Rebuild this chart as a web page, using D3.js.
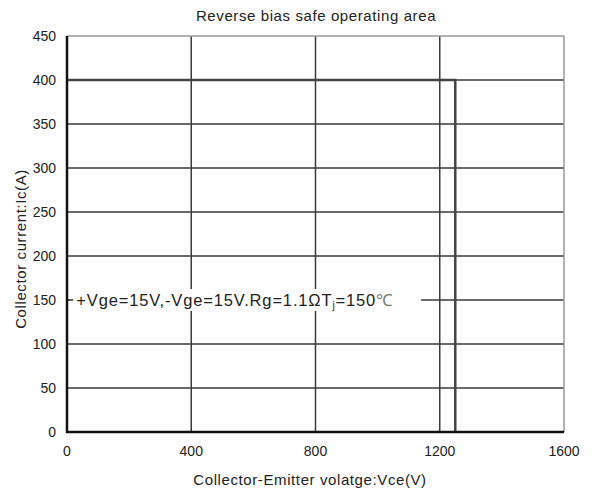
<!DOCTYPE html>
<html>
<head>
<meta charset="utf-8">
<title>RBSOA</title>
<script src="https://cdn.jsdelivr.net/npm/d3@7"></script>
<style>
  body { margin: 0; background: #fff; }
  text { font-family: "Liberation Sans", Arial, sans-serif; fill: #222; }
</style>
</head>
<body>
<div id="root"></div>
<script>
// chart values
const xTicks = [0, 400, 800, 1200, 1600];
const yTicks = [0, 50, 100, 150, 200, 250, 300, 350, 400, 450];
const soaVce = [0, 1250, 1250];
const soaIc = [400, 400, 0];

const width = 592, height = 494;
const margin = {left: 67, right: 28, top: 36, bottom: 62};

const x = d3.scaleLinear().domain([0, 1600]).range([margin.left, width - margin.right]);
const y = d3.scaleLinear().domain([0, 450]).range([height - margin.bottom, margin.top]);

const svg = d3.select("#root").append("svg")
  .attr("width", width).attr("height", height);

// gridlines
svg.append("g").selectAll("line").data(yTicks.slice(1, -1)).join("line")
  .attr("x1", x(0)).attr("x2", x(1600))
  .attr("y1", d => y(d)).attr("y2", d => y(d))
  .attr("stroke", "#3a3a3a").attr("stroke-width", 1.5);
svg.append("g").selectAll("line").data(xTicks.slice(1, -1)).join("line")
  .attr("x1", d => x(d)).attr("x2", d => x(d))
  .attr("y1", y(0)).attr("y2", y(450))
  .attr("stroke", "#3a3a3a").attr("stroke-width", 1.5);

// frame: top and right grey, left and bottom black
svg.append("line").attr("x1", x(0)).attr("x2", x(1600)).attr("y1", y(450)).attr("y2", y(450))
  .attr("stroke", "#999").attr("stroke-width", 1.5);
svg.append("line").attr("x1", x(1600)).attr("x2", x(1600)).attr("y1", y(0)).attr("y2", y(450))
  .attr("stroke", "#999").attr("stroke-width", 1.5);

// SOA boundary
const line = d3.line().x((d, i) => x(soaVce[i])).y(d => y(d));
svg.append("path").datum(soaIc).attr("d", line)
  .attr("fill", "none").attr("stroke", "#444").attr("stroke-width", 2.5);

// annotation box covering grid
svg.append("rect").attr("x", x(20)).attr("y", y(150) - 11)
  .attr("width", x(1140) - x(20)).attr("height", 22).attr("fill", "#fff");
svg.append("line").attr("x1", x(0)).attr("x2", x(10)).attr("y1", y(150)).attr("y2", y(150))
  .attr("stroke", "#3a3a3a").attr("stroke-width", 1.5);
const note = svg.append("text").attr("x", x(30)).attr("y", y(150) + 6)
  .attr("font-size", "16.5px").attr("letter-spacing", "0.85px");
note.append("tspan").text("+Vge=15V,-Vge=15V.Rg=1.1ΩT");
note.append("tspan").attr("font-size", "10px").attr("dy", 3).text("j");
note.append("tspan").attr("dy", -3).text("=150");
note.append("tspan").attr("fill", "#777").text("℃");

svg.append("line").attr("x1", x(0)).attr("x2", x(0)).attr("y1", y(0) + 1).attr("y2", y(450))
  .attr("stroke", "#111").attr("stroke-width", 2.5);
svg.append("line").attr("x1", x(0) - 1).attr("x2", x(1600)).attr("y1", y(0)).attr("y2", y(0))
  .attr("stroke", "#111").attr("stroke-width", 2.5);

// tick labels
svg.append("g").selectAll("text").data(yTicks).join("text")
  .attr("x", margin.left - 11).attr("y", d => y(d) + 5)
  .attr("text-anchor", "end").attr("font-size", "14px").text(d => d);
svg.append("g").selectAll("text").data(xTicks).join("text")
  .attr("x", d => x(d)).attr("y", y(0) + 24)
  .attr("text-anchor", "middle").attr("font-size", "14px").text(d => d);

// titles
svg.append("text").attr("x", 316).attr("y", 21).attr("text-anchor", "middle")
  .attr("font-size", "15px").attr("letter-spacing", "0.6px").text("Reverse bias safe operating area");
svg.append("text").attr("x", 310).attr("y", 485).attr("text-anchor", "middle")
  .attr("font-size", "15px").attr("letter-spacing", "0.6px").text("Collector-Emitter volatge:Vce(V)");
svg.append("text").attr("transform", "translate(26,249) rotate(-90)")
  .attr("text-anchor", "middle").attr("font-size", "15px").attr("letter-spacing", "0.6px")
  .text("Collector current:Ic(A)");
</script>
</body>
</html>
